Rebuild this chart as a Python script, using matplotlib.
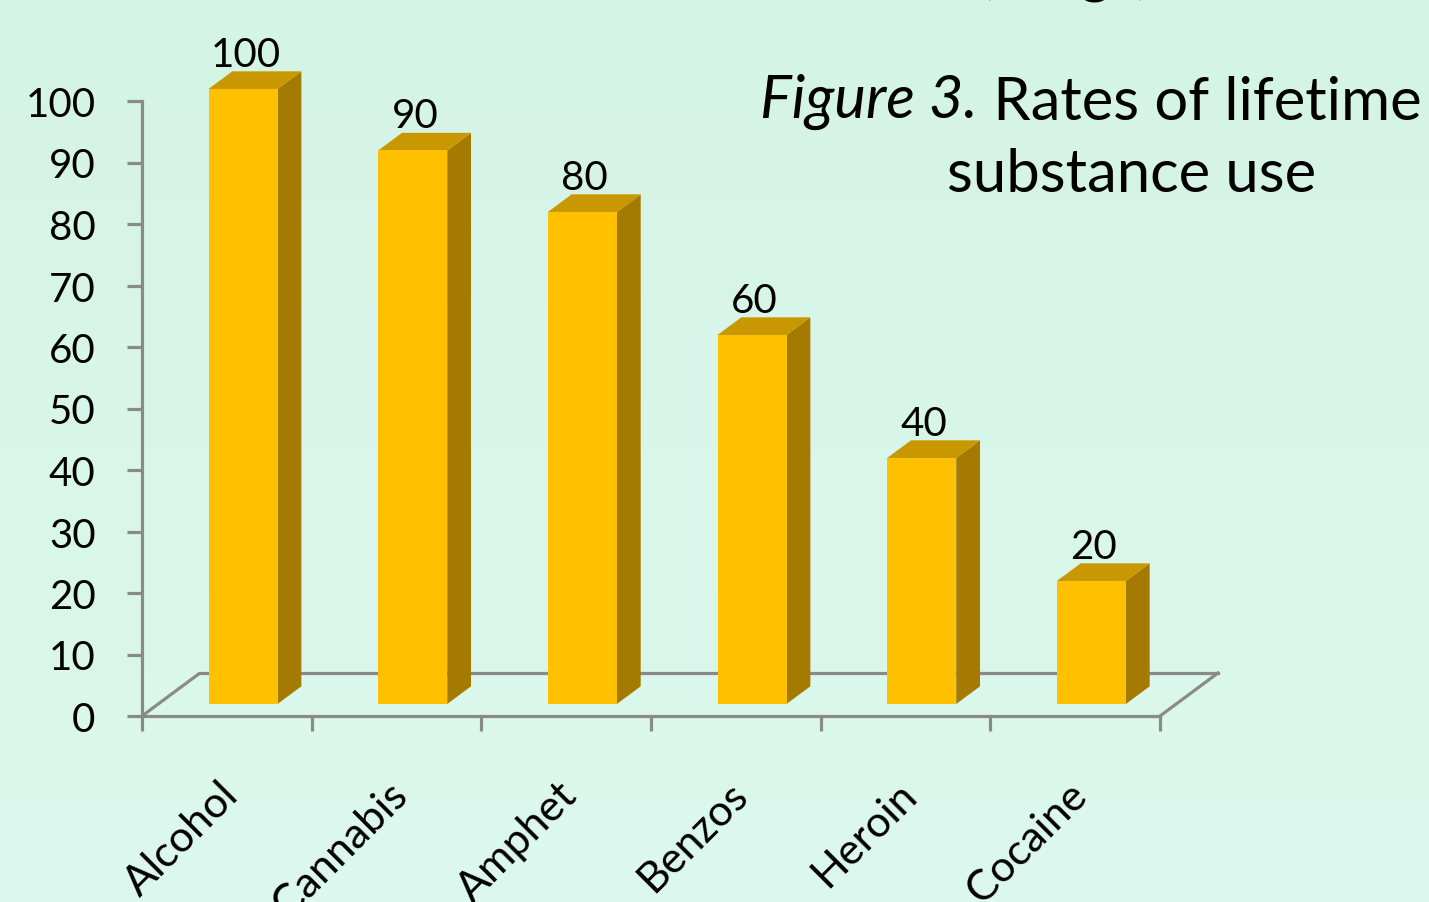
import numpy as np
import matplotlib
matplotlib.use("Agg")
import matplotlib.pyplot as plt
from matplotlib.patches import Polygon
from matplotlib.transforms import ScaledTranslation

# ---- data ----
categories = ["Alcohol", "Cannabis", "Amphet", "Benzos", "Heroin", "Cocaine"]
values = [100, 90, 80, 60, 40, 20]
y_ticks = [0, 10, 20, 30, 40, 50, 60, 70, 80, 90, 100]

# ---- style ----
FRONT = "#FFC000"
TOP = "#C99700"
SIDE = "#A47B00"
GRID = "#8A8A8A"
FONT = "Lato"

W, H = 1429, 903
fig = plt.figure(figsize=(W / 100, H / 100), dpi=100)

# background gradient
bg = fig.add_axes([0, 0, 1, 1], zorder=-10)
grad = np.linspace(0, 1, 256).reshape(-1, 1)
top_c = np.array([212, 244, 229]) / 255
bot_c = np.array([221, 248, 238]) / 255
img = top_c[None, None, :] * (1 - grad[:, :, None]) + bot_c[None, None, :] * grad[:, :, None]
bg.imshow(img, aspect="auto", extent=[0, 1, 0, 1])
bg.set_axis_off()

# main axes: front plane
x0, x1 = 142, 1160
y0, y1 = 717, 102
ax = fig.add_axes([x0 / W, (H - y0) / H, (x1 - x0) / W, (y0 - y1) / H])
ax.set_facecolor("none")
n = len(categories)
ax.set_xlim(0, n)
ax.set_ylim(0, 100)

px_per_x = (x1 - x0) / n
px_per_y = (y0 - y1) / 100.0

# depth vector of floor (data units)
ddx = 58 / px_per_x
ddy = 43 / px_per_y
t0, t1 = 0.28, 0.69
bar_w = 69 / px_per_x

# floor lines
lw = 2.3
ax.plot([0, ddx], [0, ddy], color=GRID, lw=lw, clip_on=False, zorder=1, solid_capstyle="butt")
ax.plot([ddx, n + ddx], [ddy, ddy], color=GRID, lw=lw, clip_on=False, zorder=1)
ax.plot([n, n + ddx], [0, ddy], color=GRID, lw=lw, clip_on=False, zorder=1)

bdx = (t1 - t0) * ddx
bdy = (t1 - t0) * ddy
for i, v in enumerate(values):
    c = i + 0.5
    xl = c - bar_w / 2 + t0 * ddx
    xr = xl + bar_w
    b = t0 * ddy
    tp = v + t0 * ddy
    front = Polygon([(xl, b), (xr, b), (xr, tp), (xl, tp)], closed=True,
                    facecolor=FRONT, edgecolor="none", clip_on=False, zorder=3)
    side = Polygon([(xr, b), (xr + bdx, b + bdy), (xr + bdx, tp + bdy), (xr, tp)], closed=True,
                   facecolor=SIDE, edgecolor="none", clip_on=False, zorder=2.5)
    top = Polygon([(xl, tp), (xl + bdx, tp + bdy), (xr + bdx, tp + bdy), (xr, tp)], closed=True,
                  facecolor=TOP, edgecolor="none", clip_on=False, zorder=2.5)
    for p in (side, top, front):
        ax.add_patch(p)
    ax.annotate(str(v), xy=((xl + xr) / 2 + bdx * 0.1, tp + bdy), xytext=(0, 4),
                textcoords="offset points", ha="center", va="baseline",
                fontsize=29, family=FONT, color="black", annotation_clip=False)

# spines and ticks
for s in ("top", "right"):
    ax.spines[s].set_visible(False)
for s in ("left", "bottom"):
    ax.spines[s].set_color(GRID)
    ax.spines[s].set_linewidth(lw)
    ax.spines[s].set_zorder(4)

ax.set_yticks(y_ticks)
ax.set_yticklabels([str(t) for t in y_ticks], family=FONT, fontsize=29)
ax.tick_params(axis="y", direction="out", length=10.5, width=lw, color=GRID, pad=23)

ax.set_xticks(range(n + 1))
ax.set_xticklabels([])
ax.tick_params(axis="x", which="major", direction="out", length=11, width=lw, color=GRID)
ax.set_xticks([i + 0.5 for i in range(n)], minor=True)
ax.set_xticklabels(categories, minor=True, rotation=45, ha="right", va="center",
                   rotation_mode="anchor", family=FONT, fontsize=31)
ax.tick_params(axis="x", which="minor", length=0, pad=52)
for lab in ax.get_xticklabels(minor=True):
    lab.set_transform(lab.get_transform() + ScaledTranslation(5 / 100, 0, fig.dpi_scale_trans))

# title
t1_txt = fig.text(760 / W, 1 - 118 / H, "Figure 3.", fontsize=43, family=FONT,
                  style="italic", ha="left", va="baseline")
ax.annotate(" Rates of lifetime", xy=(1, 0), xycoords=t1_txt, ha="left", va="bottom",
            fontsize=43, family=FONT, annotation_clip=False)
fig.text(1132 / W, 1 - 192 / H, "substance use", fontsize=43, family=FONT,
         ha="center", va="baseline")

# cut-off line above (only descenders visible)
fig.text(1065 / W, 1 - (-9) / H, "(drugs)", fontsize=42, family=FONT,
         ha="center", va="baseline")

fig.savefig("out.png", dpi=100)
